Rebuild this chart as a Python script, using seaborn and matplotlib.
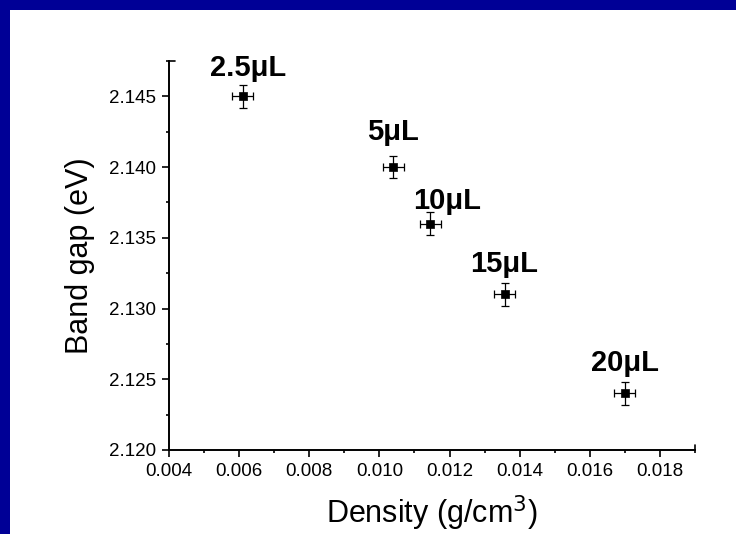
import seaborn as sns
import pandas as pd
import matplotlib.pyplot as plt
from matplotlib.patches import Rectangle
from matplotlib.ticker import MultipleLocator, FormatStrFormatter

# ------------ Data ------------
volumes = ["2.5μL", "5μL", "10μL", "15μL", "20μL"]
density = [0.0061, 0.0104, 0.01145, 0.01357, 0.0170]
band_gap = [2.145, 2.140, 2.136, 2.131, 2.124]
density_err = [0.0003, 0.0003, 0.0003, 0.0003, 0.0003]
gap_err = [0.0008, 0.0008, 0.0008, 0.0008, 0.0008]

# label placement (points, relative to each marker)
label_offsets = [(3.6, 14.4), (0, 19.4), (12.2, 10.8), (0, 15.8), (0, 15.8)]

df = pd.DataFrame({"volume": volumes, "density": density, "band_gap": band_gap,
                   "xerr": density_err, "yerr": gap_err})

sns.set_style("ticks")
plt.rcParams["font.family"] = ["Liberation Sans", "DejaVu Sans"]
plt.rcParams["text.color"] = "black"
plt.rcParams["axes.labelcolor"] = "black"

fig = plt.figure(figsize=(7.36, 5.34), dpi=100)
fig.patch.set_facecolor("white")

# blue slide frame (top and left bands)
fig.patches.append(Rectangle((0, 1 - 10 / 534), 1, 10 / 534, transform=fig.transFigure,
                             facecolor="#000096", edgecolor="none", zorder=0))
fig.patches.append(Rectangle((0, 0), 10 / 736, 1, transform=fig.transFigure,
                             facecolor="#000096", edgecolor="none", zorder=0))

ax = fig.add_axes([169 / 736, 1 - 450 / 534, (695 - 169) / 736, (450 - 61) / 534])
ax.set_facecolor("white")

ax.errorbar(df["density"], df["band_gap"], xerr=df["xerr"], yerr=df["yerr"],
            fmt="none", ecolor="black", elinewidth=0.9, capsize=3, capthick=0.9, zorder=2)
sns.scatterplot(data=df, x="density", y="band_gap", marker="s", s=38,
                color="black", edgecolor="black", ax=ax, zorder=3, legend=False)

for (_, row), off in zip(df.iterrows(), label_offsets):
    ax.annotate(row["volume"], (row["density"], row["band_gap"]),
                xytext=off, textcoords="offset points", ha="center", va="baseline",
                fontsize=21, fontweight="bold", color="black")

ax.set_xlim(0.004, 0.019)
ax.set_ylim(2.120, 2.1475)
ax.xaxis.set_major_locator(MultipleLocator(0.002))
ax.xaxis.set_minor_locator(MultipleLocator(0.001))
ax.yaxis.set_major_locator(MultipleLocator(0.005))
ax.yaxis.set_minor_locator(MultipleLocator(0.0025))
ax.xaxis.set_major_formatter(FormatStrFormatter("%.3f"))
ax.yaxis.set_major_formatter(FormatStrFormatter("%.3f"))

ax.tick_params(which="major", direction="out", length=5, width=1.2, labelsize=13.5,
               colors="black", labelcolor="black", pad=4)
ax.tick_params(which="minor", direction="out", length=2.5, width=1.2, colors="black")

for side in ["top", "right"]:
    ax.spines[side].set_visible(False)
for side in ["left", "bottom"]:
    ax.spines[side].set_linewidth(1.4)
    ax.spines[side].set_color("black")

# small end caps at the ends of the axes
ax.plot([0, 0.012], [1, 1], transform=ax.transAxes, color="black", lw=1.2, clip_on=False)
ax.plot([1, 1], [0, 0.014], transform=ax.transAxes, color="black", lw=1.2, clip_on=False)

ax.set_xlabel("Density (g/cm$^3$)", fontsize=22, labelpad=10, color="black")
ax.set_ylabel("Band gap (eV)", fontsize=22, labelpad=10, color="black")

fig.savefig("out.png", dpi=100)
